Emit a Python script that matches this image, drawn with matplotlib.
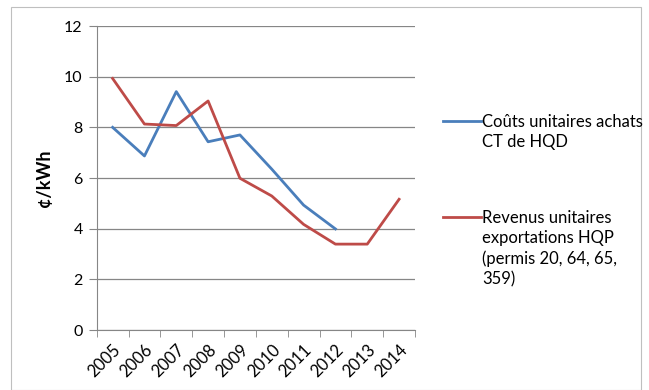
import matplotlib
matplotlib.use("Agg")
import matplotlib.pyplot as plt
from matplotlib.lines import Line2D
from matplotlib.patches import Rectangle

plt.rcParams['font.family'] = ['Lato', 'DejaVu Sans']

years = ["2005", "2006", "2007", "2008", "2009", "2010", "2011", "2012", "2013", "2014"]
couts_hqd = [8.0, 6.87, 9.41, 7.43, 7.70, 6.35, 4.93, 3.99]
revenus_hqp = [9.93, 8.13, 8.07, 9.04, 5.99, 5.29, 4.17, 3.39, 3.39, 5.16]
label_hqd = ["Coûts unitaires achats", "CT de HQD"]
label_hqp = ["Revenus unitaires", "exportations HQP", "(permis 20, 64, 65,", "359)"]

blue = "#4A7EBB"
red = "#BE4B48"
grid_col = "#868686"

fig = plt.figure(figsize=(6.49, 3.90), dpi=100)
# chart border
fig.add_artist(Rectangle((11 / 649, 0), 630 / 649, 1 - 7 / 390, transform=fig.transFigure,
                         fill=False, edgecolor="#BFBFBF", linewidth=0.8))

ax = fig.add_axes([96.7 / 649, 1 - 330 / 390, 318.3 / 649, 304 / 390])
x = list(range(len(years)))
ax.plot(x[:len(couts_hqd)], couts_hqd, color=blue, linewidth=2.0, solid_joinstyle="round")
ax.plot(x, revenus_hqp, color=red, linewidth=2.0, solid_joinstyle="round")

ax.set_xlim(-0.5, len(years) - 0.5)
ax.set_ylim(0, 12)
ax.set_yticks(range(0, 13, 2))
ax.set_xticks(x)
ax.set_xticklabels(years, rotation=45, ha="right", rotation_mode="anchor", fontsize=12)
ax.set_xticks([i - 0.5 for i in range(len(years) + 1)], minor=True)
ax.tick_params(axis="x", which="major", length=0, pad=8)
ax.tick_params(axis="x", which="minor", length=5, color=grid_col, direction="out")
ax.tick_params(axis="y", length=6, color=grid_col, labelsize=11.5, pad=4)
ax.grid(axis="y", color=grid_col, linewidth=0.9)
ax.set_axisbelow(True)
for s in ["top", "right"]:
    ax.spines[s].set_visible(False)
ax.spines["left"].set_color(grid_col)
ax.spines["bottom"].set_color(grid_col)
ax.set_ylabel("¢/kWh", fontsize=13, fontweight="bold", labelpad=8)

# legend, handle aligned with the first text line like Excel
for col, lines, base in [(blue, label_hqd, 126.7), (red, label_hqp, 222.7)]:
    fig.add_artist(Line2D([443 / 649, 481 / 649], [1 - (base - 6) / 390] * 2,
                          transform=fig.transFigure, color=col, linewidth=2.0))
    for i, t in enumerate(lines):
        fig.text(482 / 649, 1 - (base + i * 20.5) / 390, t, fontsize=12,
                 va="baseline", ha="left")

fig.savefig("out.png", dpi=100)
